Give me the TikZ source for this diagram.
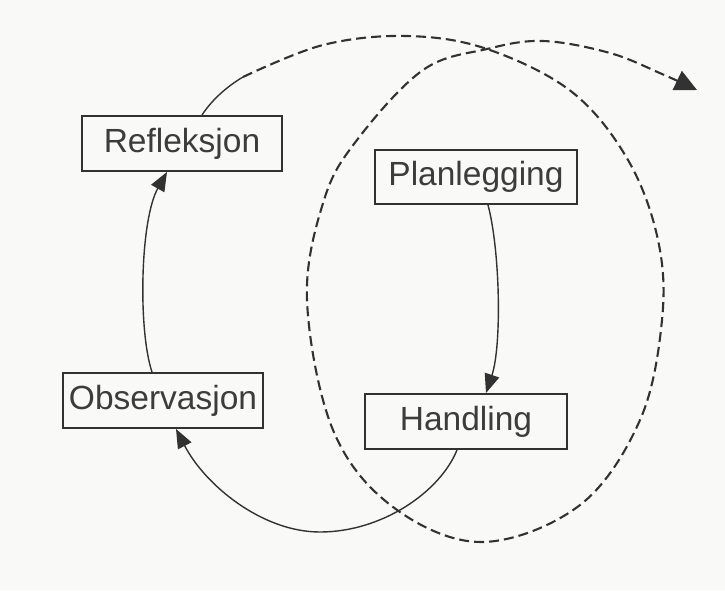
\documentclass[tikz,border=0pt]{standalone}
\usepackage{fontspec}
\setmainfont{Liberation Sans}
\usetikzlibrary{arrows.meta}
\definecolor{ink}{RGB}{50,50,50}
\definecolor{txt}{RGB}{60,60,60}
\definecolor{bg}{RGB}{249,249,247}
\begin{document}
\begin{tikzpicture}[x=1pt,y=-1pt,
  box/.style={draw=ink, line width=1.9pt, inner sep=0pt, minimum width=200pt,
    minimum height=55pt, text height=24pt, text depth=7pt,
    font=\fontsize{33.5}{40}\selectfont, text=txt},
  flow/.style={draw=ink, line width=1.4pt},
  flowarrow/.style={flow, -{Triangle[length=19pt,width=15pt]}},
  dashline/.style={draw=ink, line width=2.1pt, dash pattern=on 10pt off 5pt,
    -{Triangle[length=22pt,width=21pt]}}]
\fill[bg] (0,0) rectangle (725,590);
\useasboundingbox (0,0) rectangle (725,590);

\node[box] (R) at (182,143.5) {Refleksjon};
\node[box, minimum width=202pt, minimum height=54pt] (P) at (476,177) {Planlegging};
\node[box] (O) at (163,400.5) {Observasjon};
\node[box, minimum width=202pt] (H) at (466,421.5) {Handling};

% Planlegging -> Handling
\draw[flowarrow] ([xshift=12pt]P.south) .. controls (500,250) and (502,345) .. ([xshift=20pt]H.north);
% Handling -> Observasjon
\coordinate (hb) at (320,532);
\draw[flowarrow] ([xshift=-9pt]H.south) .. controls (440,492) and (382,532) .. (hb)
  .. controls (262,532) and (205,485) .. ([xshift=13pt]O.south);
% Observasjon -> Refleksjon
\draw[flowarrow] ([xshift=-11pt]O.north) .. controls (138,330) and (140,220) .. ([xshift=-15pt]R.south);
% Refleksjon -> start of dashed spiral
\coordinate (d0) at (243,77);
\draw[flow] ([xshift=20pt]R.north) .. controls (211,101) and (226,87) .. (d0);
% dashed second cycle
\coordinate (dend) at (697,90);
\draw[dashline] plot[smooth, tension=0.6] coordinates {(d0) (323,45) (407,36) (487,49)
  (572,92) (628,160) (658,240) (662,320) (640,420) (580,505) (482,542) (393,507) (333,430)
  (307,300) (324,200) (357,140) (423,70) (487,49) (543,41) (610,53) (662,74) (dend)};
\end{tikzpicture}
\end{document}
